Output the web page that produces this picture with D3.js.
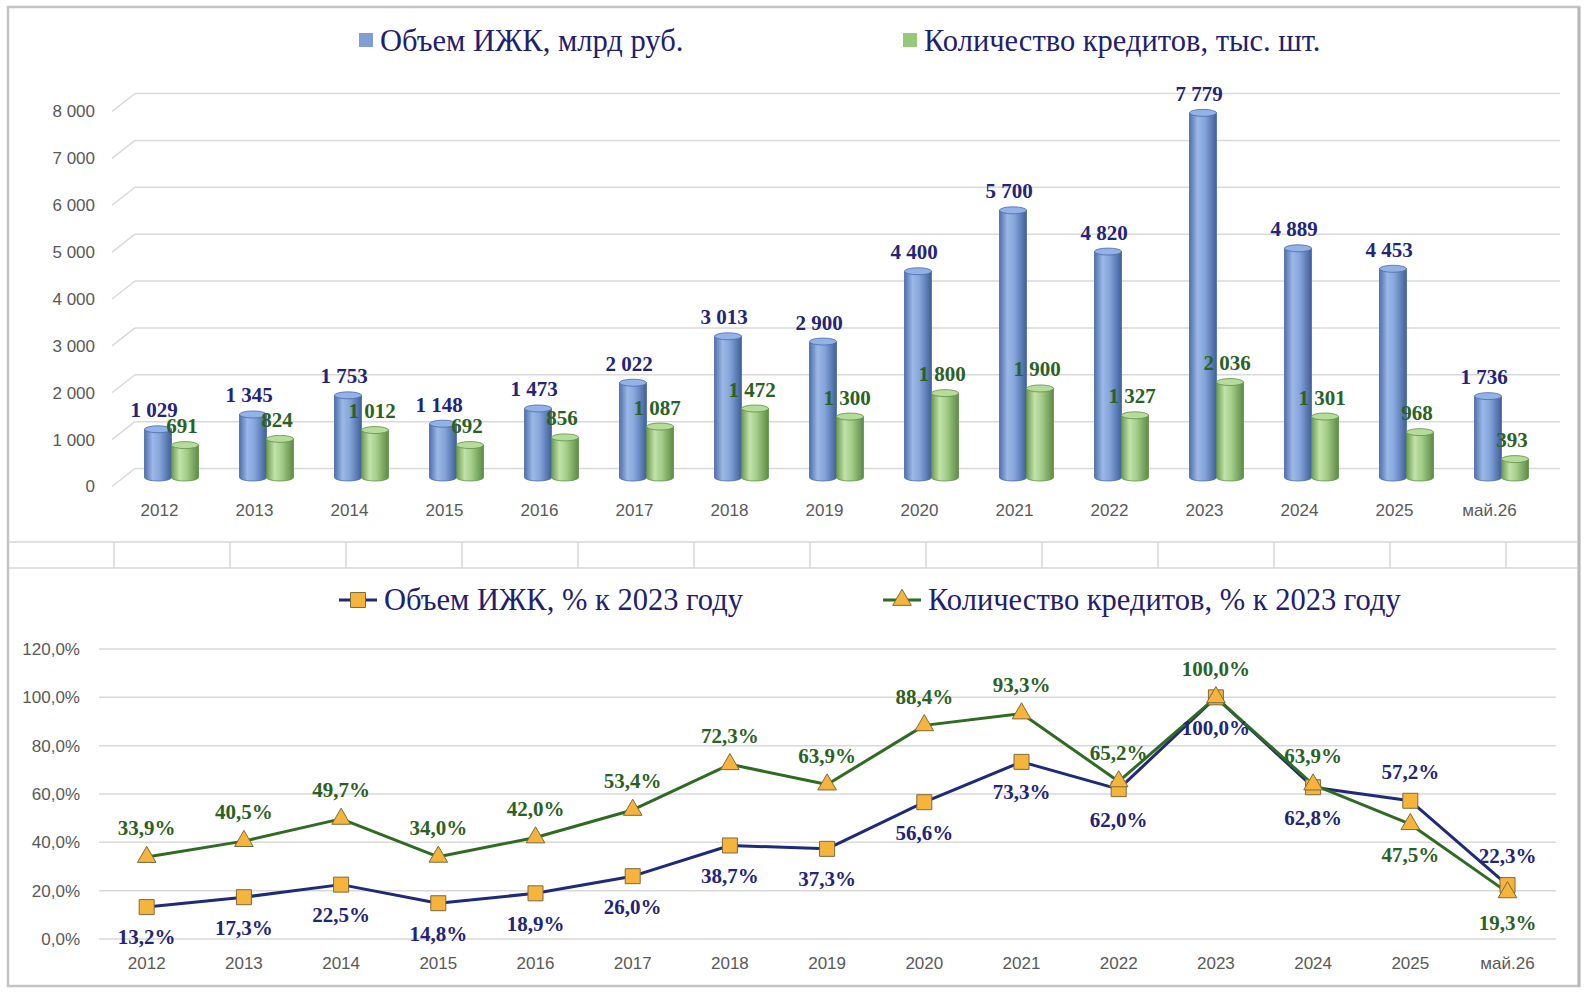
<!DOCTYPE html>
<html>
<head>
<meta charset="utf-8">
<script src="https://cdn.jsdelivr.net/npm/d3@7"></script>
<style>
  body { margin: 0; background: #fff; }
  svg { display: block; }
</style>
</head>
<body>
<svg id="chart" width="1586" height="996"></svg>
<script>
// данные
var categories = ["2012", "2013", "2014", "2015", "2016", "2017", "2018", "2019", "2020", "2021", "2022", "2023", "2024", "2025", "май.26"];
var volumeBn = [1029, 1345, 1753, 1148, 1473, 2022, 3013, 2900, 4400, 5700, 4820, 7779, 4889, 4453, 1736];
var loansK = [691, 824, 1012, 692, 856, 1087, 1472, 1300, 1800, 1900, 1327, 2036, 1301, 968, 393];
var volumePct = [13.2, 17.3, 22.5, 14.8, 18.9, 26.0, 38.7, 37.3, 56.6, 73.3, 62.0, 100.0, 62.8, 57.2, 22.3];
var loansPct = [33.9, 40.5, 49.7, 34.0, 42.0, 53.4, 72.3, 63.9, 88.4, 93.3, 65.2, 100.0, 63.9, 47.5, 19.3];
var barTicks = [0, 1000, 2000, 3000, 4000, 5000, 6000, 7000, 8000];
var pctTicks = [0, 20, 40, 60, 80, 100, 120];
var barLegend = ["Объем ИЖК, млрд руб.", "Количество кредитов, тыс. шт."];
var lineLegend = ["Объем ИЖК, % к 2023 году", "Количество кредитов, % к 2023 году"];

var ru = d3.formatLocale({ decimal: ",", thousands: " ", grouping: [3], currency: ["", ""] });
var fmtInt = ru.format(",d");
var fmtPct = function(v) { return ru.format(".1f")(v) + "%"; };

var navy = "#23247a", dkgreen = "#2a6224", axisGrey = "#595959", gridCol = "#d9d9d9";
var serif = "'Liberation Serif', 'Times New Roman', serif";
var sans = "'Liberation Sans', Arial, sans-serif";

var svg = d3.select("#chart");
var defs = svg.append("defs");

// градиенты цилиндров
function cylGrad(id, stops) {
    var g = defs.append("linearGradient").attr("id", id).attr("x1", 0).attr("x2", 1).attr("y1", 0).attr("y2", 0);
    stops.forEach(function(s) { g.append("stop").attr("offset", s[0]).attr("stop-color", s[1]); });
}
cylGrad("gBlue", [[0, "#4f70ac"], [0.3, "#9bb8e6"], [0.55, "#86a6dc"], [1, "#41609a"]]);
cylGrad("gGreen", [[0, "#6a9a50"], [0.3, "#c2e2ab"], [0.55, "#a5cf8a"], [1, "#5d8a45"]]);

// рамка
svg.append("rect").attr("x", 8).attr("y", 7).attr("width", 1571).attr("height", 979)
    .attr("fill", "#fff").attr("stroke", "#c4c4c4").attr("stroke-width", 2.5);
svg.append("line").attr("x1", 1579).attr("x2", 1579).attr("y1", 7).attr("y2", 987)
    .attr("stroke", "#b8b8b8").attr("stroke-width", 3);

// полоса между диаграммами (сетка листа)
var strip = svg.append("g");
[542, 568].forEach(function(y) {
    strip.append("line").attr("x1", 9).attr("x2", 1578).attr("y1", y).attr("y2", y)
        .attr("stroke", "#d6d6d6").attr("stroke-width", 1.5);
});
d3.range(13).forEach(function(k) {
    var x = 114 + k * 116;
    strip.append("line").attr("x1", x).attr("x2", x).attr("y1", 542).attr("y2", 568)
        .attr("stroke", "#d6d6d6").attr("stroke-width", 1.5);
});

// ===== верхняя диаграмма: объемные столбцы =====
var depthX = 23, depthY = -18;
var x0 = d3.scaleBand().domain(categories).range([112, 1537]);
var y0 = d3.scaleLinear().domain([0, 8000]).range([486.5, 111.5]);
var x1 = d3.scaleBand().domain([0, 1]).range([-27, 27]);

var gTop = svg.append("g");
// сетка на задней стенке + скосы слева
barTicks.forEach(function(t) {
    var yf = y0(t);
    gTop.append("line").attr("x1", 112).attr("y1", yf).attr("x2", 112 + depthX).attr("y2", yf + depthY)
        .attr("stroke", gridCol).attr("stroke-width", 1.5);
    gTop.append("line").attr("x1", 112 + depthX).attr("y1", yf + depthY).attr("x2", 1537 + depthX).attr("y2", yf + depthY)
        .attr("stroke", gridCol).attr("stroke-width", 1.5);
    gTop.append("text").attr("x", 95).attr("y", yf).attr("dy", "0.35em")
        .attr("text-anchor", "end").attr("font-family", sans).attr("font-size", 17)
        .attr("fill", axisGrey).text(fmtInt(t));
});
// подписи категорий
gTop.selectAll(".xl").data(categories).enter().append("text")
    .attr("x", function(d) { return x0(d) + x0.bandwidth() / 2; })
    .attr("y", 510).attr("dy", "0.35em").attr("text-anchor", "middle")
    .attr("font-family", sans).attr("font-size", 17).attr("fill", axisGrey)
    .text(function(d) { return d; });

var barW = x1.bandwidth(), ry = 3.5;
var series = [
    { vals: volumeBn, fill: "url(#gBlue)", topFill: "#93b3e8", stroke: "#4a6aa6", lab: navy, lx: -4 },
    { vals: loansK, fill: "url(#gGreen)", topFill: "#b5dc9b", stroke: "#5f8f47", lab: dkgreen, lx: -3 }
];
series.forEach(function(s, si) {
    var gs = gTop.append("g");
    var bars = gs.selectAll("g").data(s.vals).enter().append("g")
        .attr("transform", function(d, i) {
            var cx = x0(categories[i]) + x0.bandwidth() / 2 + depthX / 2 + 0.5 + x1(si) + barW / 2;
            return "translate(" + cx + ",0)";
        });
    var yb = y0(0) + depthY / 2;
    bars.append("path")
        .attr("d", function(d) {
            var yt = y0(d) + depthY / 2, r = barW / 2;
            return "M" + (-r) + "," + yt + "L" + (-r) + "," + yb +
                "A" + r + "," + ry + " 0 0 0 " + r + "," + yb + "L" + r + "," + yt + "Z";
        })
        .attr("fill", s.fill).attr("stroke", s.stroke).attr("stroke-width", 0.8);
    bars.append("ellipse")
        .attr("cx", 0).attr("cy", function(d) { return y0(d) + depthY / 2; })
        .attr("rx", barW / 2).attr("ry", ry)
        .attr("fill", s.topFill).attr("stroke", s.stroke).attr("stroke-width", 0.8);
    bars.append("text")
        .attr("x", s.lx).attr("y", function(d) { return y0(d) + depthY / 2 - 12; })
        .attr("text-anchor", "middle").attr("font-family", serif).attr("font-weight", "bold")
        .attr("font-size", 21).attr("fill", s.lab)
        .text(function(d) { return fmtInt(d); });
});

// легенда верхней диаграммы
var lg1 = svg.append("g");
[[359, "#7f9fd6"], [903, "#96c97a"]].forEach(function(p, i) {
    lg1.append("rect").attr("x", p[0]).attr("y", 33).attr("width", 14).attr("height", 14).attr("fill", p[1]);
    lg1.append("text").attr("x", p[0] + 21).attr("y", 51).attr("font-family", serif)
        .attr("font-size", 30.5).attr("fill", "#1f2070").text(barLegend[i]);
});

// ===== нижняя диаграмма: линии =====
var xp = d3.scalePoint().domain(categories).range([146.7, 1507.5]);
var yp = d3.scaleLinear().domain([0, 120]).range([939, 649]);

var bot = svg.append("g");
pctTicks.forEach(function(t) {
    bot.append("line").attr("x1", 99).attr("x2", 1556).attr("y1", yp(t)).attr("y2", yp(t))
        .attr("stroke", gridCol).attr("stroke-width", 1.5);
    bot.append("text").attr("x", 80).attr("y", yp(t)).attr("dy", "0.35em").attr("text-anchor", "end")
        .attr("font-family", sans).attr("font-size", 17).attr("fill", axisGrey).text(fmtPct(t));
});
bot.selectAll(".xl").data(categories).enter().append("text")
    .attr("x", function(d) { return xp(d); }).attr("y", 963).attr("dy", "0.35em")
    .attr("text-anchor", "middle").attr("font-family", sans).attr("font-size", 17)
    .attr("fill", axisGrey).text(function(d) { return d; });

var line = d3.line().x(function(d, i) { return xp(categories[i]); }).y(function(d) { return yp(d); });
var mFill = "#f5b53d", mStroke = "#7d6a3e";
var sq = d3.symbol().type(d3.symbolSquare).size(225);
var tri = d3.symbol().type(d3.symbolTriangle).size(150);

var lines = [
    { vals: volumePct, other: loansPct, col: "#1f2a7a", lab: navy, sym: sq, tieUp: false },
    { vals: loansPct, other: volumePct, col: "#2f6b22", lab: dkgreen, sym: tri, tieUp: true }
];
lines.forEach(function(s) {
    bot.append("path").attr("d", line(s.vals)).attr("fill", "none")
        .attr("stroke", s.col).attr("stroke-width", 3).attr("stroke-linejoin", "round");
});
lines.forEach(function(s) {
    bot.append("g").selectAll("path").data(s.vals).enter().append("path")
        .attr("d", s.sym)
        .attr("transform", function(d, i) { return "translate(" + xp(categories[i]) + "," + yp(d) + ")"; })
        .attr("fill", mFill).attr("stroke", mStroke).attr("stroke-width", 1);
});
lines.forEach(function(s) {
    bot.append("g").selectAll("text").data(s.vals).enter().append("text")
        .attr("x", function(d, i) { return xp(categories[i]); })
        .attr("y", function(d, i) {
            var up = d > s.other[i] || (d === s.other[i] && s.tieUp);
            return yp(d) + (up ? -29 : 30);
        })
        .attr("dy", "0.35em").attr("text-anchor", "middle")
        .attr("font-family", serif).attr("font-weight", "bold").attr("font-size", 21)
        .attr("fill", s.lab).text(function(d) { return fmtPct(d); });
});

// легенда нижней диаграммы
var lg2 = svg.append("g");
[[339, "#1f2a7a", sq], [883, "#2f6b22", tri]].forEach(function(p, i) {
    lg2.append("line").attr("x1", p[0]).attr("x2", p[0] + 38).attr("y1", 600).attr("y2", 600)
        .attr("stroke", p[1]).attr("stroke-width", 3);
    lg2.append("path").attr("d", p[2]).attr("transform", "translate(" + (p[0] + 19) + ",600)")
        .attr("fill", mFill).attr("stroke", mStroke).attr("stroke-width", 1);
    lg2.append("text").attr("x", p[0] + 45).attr("y", 610).attr("font-family", serif)
        .attr("font-size", 30.5).attr("fill", "#1f2070").text(lineLegend[i]);
});
</script>
</body>
</html>
